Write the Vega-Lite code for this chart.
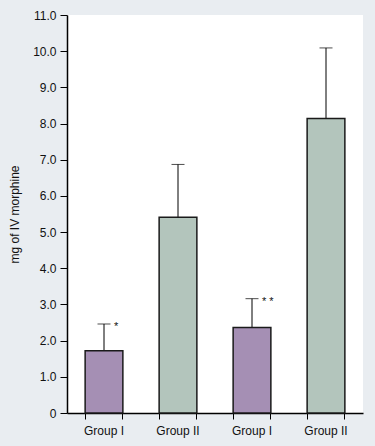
{
  "$schema": "https://vega.github.io/schema/vega-lite/v6.json",
  "width": 296,
  "height": 398,
  "autosize": {"type": "none"},
  "padding": {"left": 67, "top": 15, "right": 12, "bottom": 33},
  "background": "#e9edf1",
  "config": {
    "view": {"stroke": null, "fill": "#ffffff"},
    "font": "Liberation Sans",
    "axis": {"grid": false, "domainColor": "#000000", "tickColor": "#000000", "labelColor": "#111111", "titleColor": "#111111", "labelFontSize": 12, "titleFontSize": 12, "titleFontWeight": "normal"},
    "axisY": {"values": [0,1,2,3,4,5,6,7,8,9,10,11], "labelExpr": "datum.value == 0 ? '0' : format(datum.value, '.1f')", "tickSize": 7, "labelPadding": 4, "titlePadding": 11, "domainWidth": 1.5}
  },
  "data": {
    "values": [
      {"pos": 1, "group": "Group I", "mean": 1.72, "upper": 2.46, "mark": "*"},
      {"pos": 2, "group": "Group II", "mean": 5.41, "upper": 6.87, "mark": ""},
      {"pos": 3, "group": "Group I", "mean": 2.36, "upper": 3.16, "mark": "* *"},
      {"pos": 4, "group": "Group II", "mean": 8.14, "upper": 10.09, "mark": ""}
    ]
  },
  "encoding": {
    "x": {"field": "pos", "type": "ordinal", "axis": null, "scale": {"paddingInner": 0.49, "paddingOuter": 0.245}}
  },
  "layer": [
    {
      "mark": {"type": "rule", "color": "#000000", "strokeWidth": 1},
      "encoding": {
        "x": {"field": "pos", "type": "ordinal", "axis": {"orient": "bottom", "labels": false, "domain": false, "bandPosition": 0, "tickSize": 6, "title": null}},
        "y": {"field": "mean", "type": "quantitative", "scale": {"domain": [0, 11], "nice": false}, "axis": {"title": "mg of IV morphine"}},
        "y2": {"field": "upper"}
      }
    },
    {
      "mark": {"type": "tick", "color": "#000000", "thickness": 1, "size": 13},
      "encoding": {
        "y": {"field": "upper", "type": "quantitative", "axis": {"title": "mg of IV morphine"}}
      }
    },
    {
      "mark": {"type": "bar", "stroke": "#1a1a1a", "strokeWidth": 1.5},
      "encoding": {
        "x": {"field": "pos", "type": "ordinal", "axis": {"orient": "bottom", "title": null, "labelAngle": 0, "bandPosition": 1, "tickSize": 6, "labelPadding": 6, "domainWidth": 1.5, "labelExpr": "datum.value % 2 == 1 ? 'Group I' : 'Group II'"}},
        "y": {"field": "mean", "type": "quantitative", "axis": {"title": "mg of IV morphine"}},
        "color": {"field": "group", "type": "nominal", "scale": {"domain": ["Group I", "Group II"], "range": ["#a58fb4", "#b3c5bc"]}, "legend": null}
      }
    },
    {
      "mark": {"type": "text", "align": "left", "baseline": "middle", "dx": 10, "dy": 3, "fontSize": 11, "color": "#111111"},
      "encoding": {
        "y": {"field": "upper", "type": "quantitative", "axis": {"title": "mg of IV morphine"}},
        "text": {"field": "mark"}
      }
    }
  ],
  "resolve": {"axis": {"x": "independent"}}
}
